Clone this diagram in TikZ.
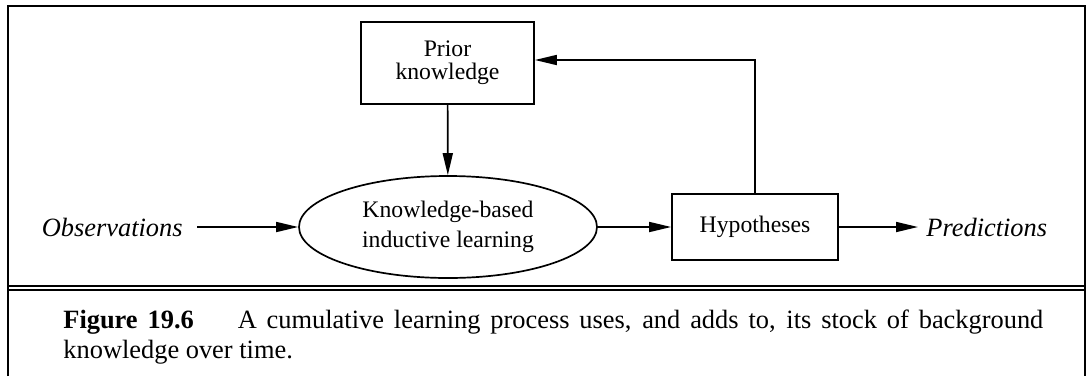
\documentclass[tikz,border=0pt]{standalone}
\usepackage{fontspec}
\setmainfont{Liberation Serif}
\usetikzlibrary{shapes.geometric,arrows.meta}
\begin{document}
\begin{tikzpicture}[x=0.5pt,y=-0.5pt,>={Triangle[length=11pt,width=5pt]},
  stagebox/.style={draw,line width=0.85pt,align=center,inner sep=0pt,font=\fontsize{11.85}{11.5}\selectfont},
  flowlabel/.style={inner ysep=0pt,font=\fontsize{13.2}{15}\selectfont\itshape},
  flow/.style={->,line width=0.85pt},
  frame/.style={line width=1.2pt}]
\useasboundingbox (0,0) rectangle (1088,376);
% frame and caption rule
\draw[frame] (8,376) |- (1085,6) -- (1085,376);
\draw[frame] (8,286) -- (1085,286);
\draw[frame] (8,290) -- (1085,290);
% stages
\node[stagebox,minimum width=86.5pt,minimum height=41pt] (prior) at (447.5,63) {Prior\\knowledge};
\node[stagebox,ellipse,minimum width=149pt,minimum height=51pt,font=\fontsize{11.85}{15}\selectfont] (kbil) at (448,227) {Knowledge-based\\inductive learning};
\node[stagebox,minimum width=83pt,minimum height=33pt] (hyp) at (755,227) {Hypotheses};
\node[flowlabel,inner xsep=7pt,anchor=east] (obs) at (197,227) {Observations};
\node[flowlabel,inner xsep=4pt,anchor=west] (pred) at (918,227) {Predictions};
% connectors
\draw[flow] (obs) -- (kbil);
\draw[flow] (prior) -- (kbil);
\draw[flow] (kbil) -- (hyp);
\draw[flow] (hyp) -- (pred);
\draw[flow] (hyp.north) |- ([yshift=1.5pt]prior.east);
% caption
\node[anchor=base west,inner sep=0pt,text width=490pt,align=justify,font=\fontsize{13.2}{15}\selectfont] (caption) at (63,328)
  {\textbf{Figure 19.6}\hspace{22pt}A cumulative learning process uses, and adds to, its stock of background\linebreak knowledge over time.};
\end{tikzpicture}
\end{document}
